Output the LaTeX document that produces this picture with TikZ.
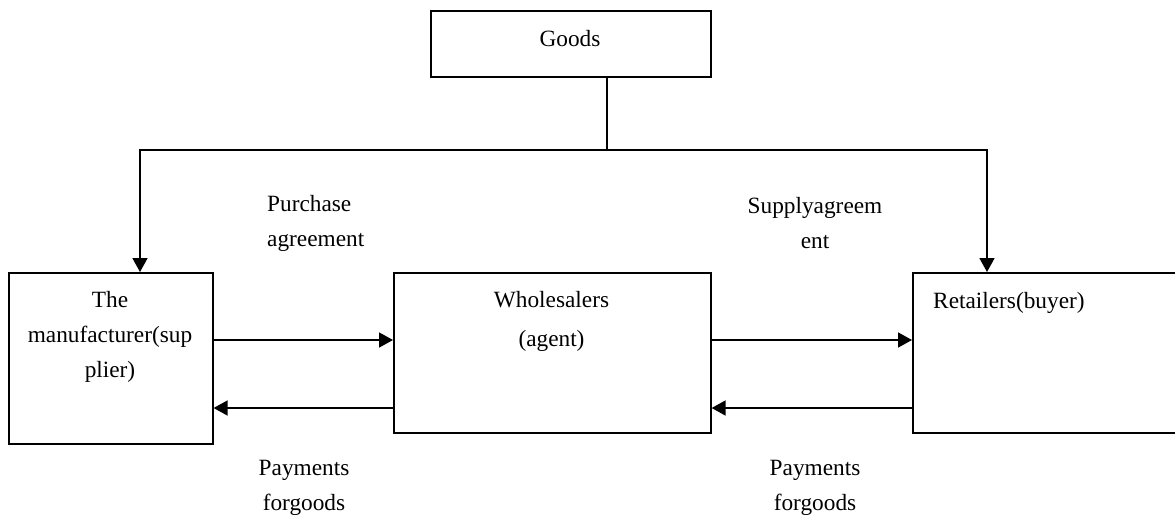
\documentclass[tikz,border=0pt]{standalone}
\usepackage{fontspec}
\setmainfont{Liberation Serif}
\usetikzlibrary{arrows.meta}
\begin{document}
\begin{tikzpicture}[x=1pt,y=-1pt,
  box/.style={draw,line width=1.6pt,inner sep=0pt,anchor=north west},
  lbl/.style={inner sep=0pt,align=center,font=\fontsize{23.3}{35}\selectfont},
  conn/.style={line width=1.7pt},
  arr/.style={conn,-{Triangle[length=14pt,width=15pt]}}]
\useasboundingbox (0,0) rectangle (1175,515);
\begin{scope}
\clip (0,0) rectangle (1175,515);
\node[box,minimum width=280pt,minimum height=66pt] (goods) at (430,10) {};
\node[box,minimum width=204pt,minimum height=171pt] (man) at (8,272) {};
\node[box,minimum width=317pt,minimum height=160pt] (whole) at (393,272) {};
\node[box,minimum width=280pt,minimum height=160pt] (ret) at (912,272) {};
\end{scope}
\node[lbl] (tgoods) at (570,39) {Goods};
\node[lbl] (tman) at (110,337) {The\\manufacturer(sup\\plier)};
\node[lbl] (twhole) at (551.5,321) {Wholesalers\\[4pt](agent)};
\node[lbl,anchor=west] (tret) at (933,303) {Retailers(buyer)};
\node[lbl,align=left,anchor=west] (tpur) at (267,223) {Purchase\\agreement};
\node[lbl] (tsup) at (815,223) {Supplyagreem\\ent};
\node[lbl] (tpay1) at (304,488) {Payments\\forgoods};
\node[lbl] (tpay2) at (815,488) {Payments\\forgoods};
\coordinate (j) at (607,150);
\coordinate (jl) at (140,150);
\coordinate (jr) at (987,150);
\draw[conn] (goods.south -| j) -- (j);
\draw[arr] (j) -- (jl) -- (jl |- man.north);
\draw[arr] (j) -- (jr) -- (jr |- ret.north);
\draw[arr] (man.east |- 0,340) -- (whole.west |- 0,340);
\draw[arr] (whole.east |- 0,340) -- (ret.west |- 0,340);
\draw[arr] (whole.west |- 0,408) -- (man.east |- 0,408);
\draw[arr] (ret.west |- 0,408) -- (whole.east |- 0,408);
\end{tikzpicture}
\end{document}
